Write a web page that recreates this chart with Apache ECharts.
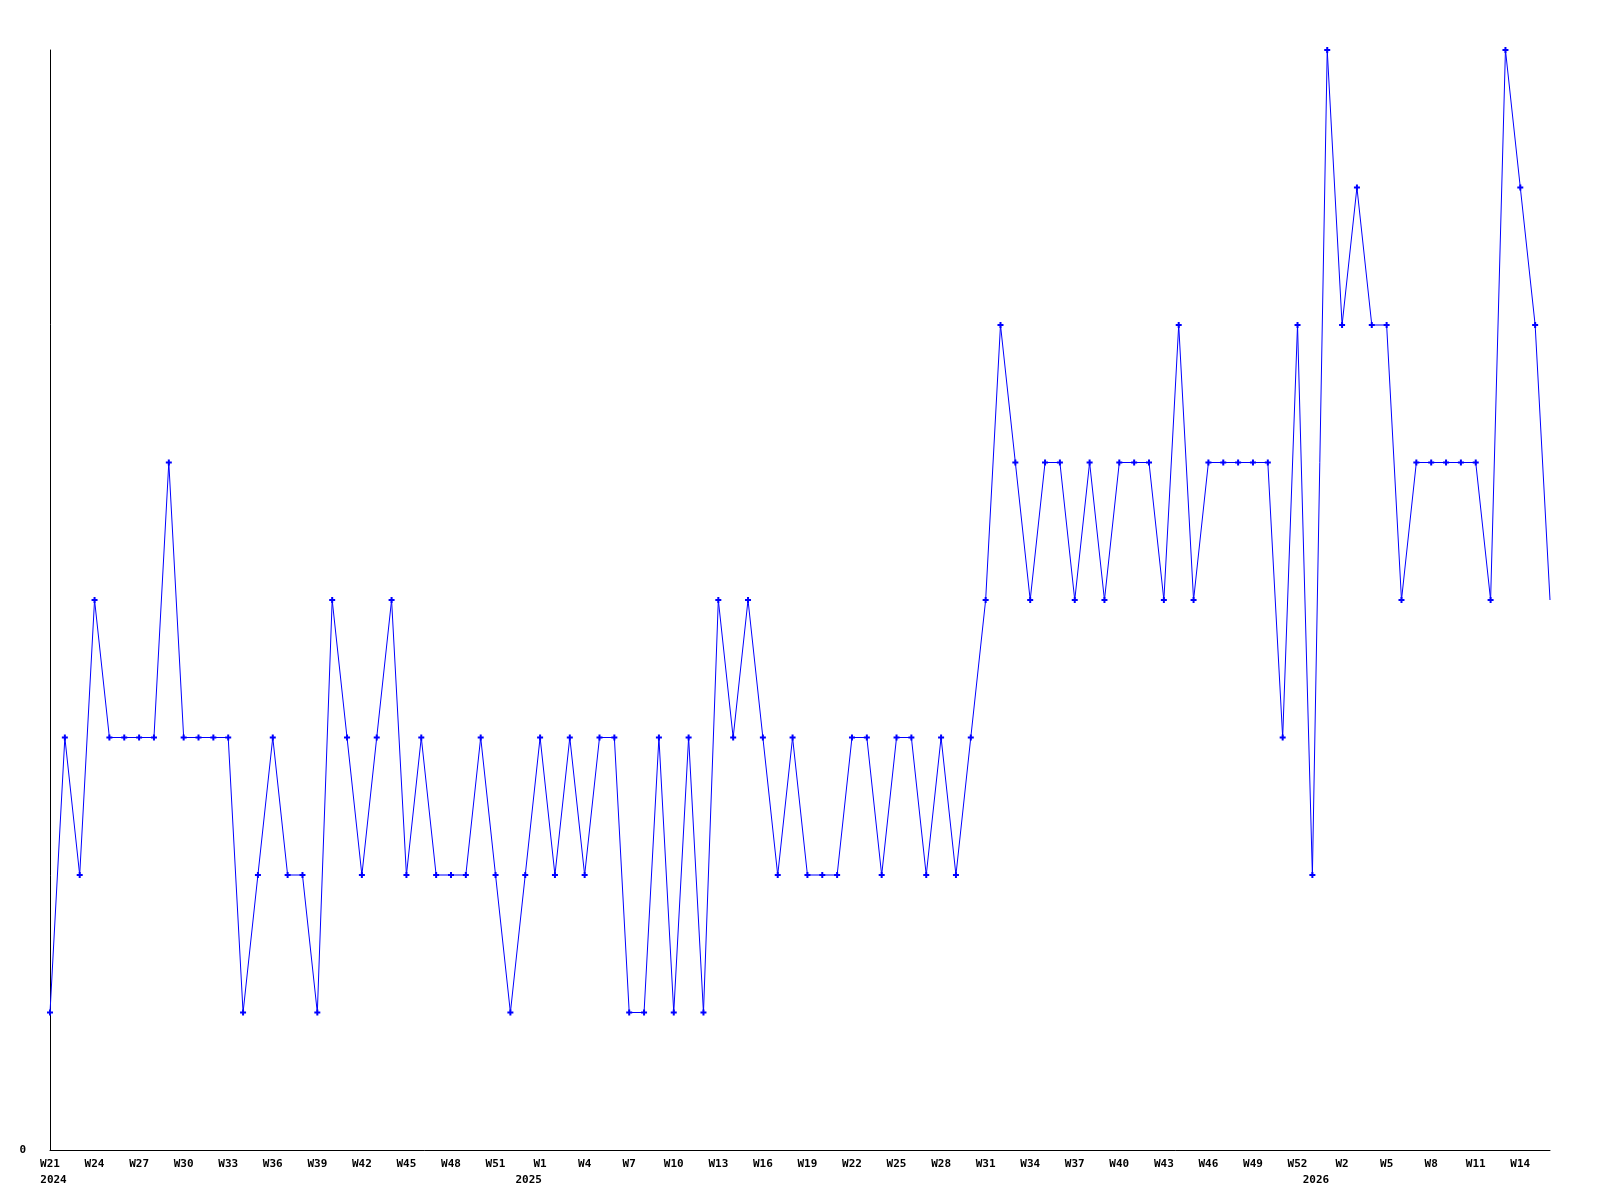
<!DOCTYPE html>
<html>
<head>
<meta charset="utf-8">
<script src="https://cdn.jsdelivr.net/npm/echarts@6/dist/echarts.min.js"></script>
<style>
html, body { margin: 0; padding: 0; background: #fff; }
#main { width: 1600px; height: 1200px; }
</style>
</head>
<body>
<div id="main"></div>
<script>
// weeks shown on the x axis (2024 W21 .. 2026 W16)
var weeks2024 = ['W21','W22','W23','W24','W25','W26','W27','W28','W29','W30','W31','W32','W33','W34','W35','W36','W37','W38','W39','W40','W41','W42','W43','W44','W45','W46','W47','W48','W49','W50','W51','W52','W53']
var weeks2025 = ['W1','W2','W3','W4','W5','W6','W7','W8','W9','W10','W11','W12','W13','W14','W15','W16','W17','W18','W19','W20','W21','W22','W23','W24','W25','W26','W27','W28','W29','W30','W31','W32','W33','W34','W35','W36','W37','W38','W39','W40','W41','W42','W43','W44','W45','W46','W47','W48','W49','W50','W51','W52','W53']
var weeks2026 = ['W1','W2','W3','W4','W5','W6','W7','W8','W9','W10','W11','W12','W13','W14','W15','W16']

// year labels: index on the axis -> text
var yearIndex = [0, 32, 85]
var yearText = ['2024', '2025', '2026']

// weekly counts
var counts = [
  1, 3, 2, 4, 3, 3, 3, 3, 5, 3,
  3, 3, 3, 1, 2, 3, 2, 2, 1, 4,
  3, 2, 3, 4, 2, 3, 2, 2, 2, 3,
  2, 1, 2, 3, 2, 3, 2, 3, 3, 1,
  1, 3, 1, 3, 1, 4, 3, 4, 3, 2,
  3, 2, 2, 2, 3, 3, 2, 3, 3, 2,
  3, 2, 3, 4, 6, 5, 4, 5, 5, 4,
  5, 4, 5, 5, 5, 4, 6, 4, 5, 5,
  5, 5, 5, 3, 6, 2, 8, 6, 7, 6,
  6, 4, 5, 5, 5, 5, 5, 4, 8, 7,
  6, 4
]

var weeks = weeks2024.concat(weeks2025, weeks2026)

// last (current) week is drawn without a marker
var seriesData = counts.map(function (v, i) {
  if (i === counts.length - 1) {
    return { value: v, symbol: 'none' }
  }
  return v
})

var labelFont = {
  fontFamily: 'DejaVu Sans Mono',
  fontWeight: 'bold',
  fontSize: 11,
  color: '#000'
}

var chart = echarts.init(document.getElementById('main'))
chart.setOption({
  animation: false,
  backgroundColor: '#fff',
  grid: { left: 50, right: 50, top: 50, bottom: 50 },
  xAxis: [
    {
      type: 'category',
      data: weeks,
      boundaryGap: false,
      axisLine: { lineStyle: { color: '#000', width: 1 } },
      axisTick: { show: false },
      axisLabel: Object.assign({ interval: 2, margin: 9 }, labelFont),
      splitLine: { show: false }
    },
    {
      type: 'category',
      data: weeks,
      position: 'bottom',
      boundaryGap: false,
      axisLine: { show: false },
      axisTick: { show: false },
      axisLabel: Object.assign({
        margin: 25,
        padding: [0, 0, 0, 7],
        interval: function (index) {
          return yearIndex.indexOf(index) >= 0
        },
        formatter: function (value, index) {
          var k = yearIndex.indexOf(index)
          return k >= 0 ? yearText[k] : ''
        }
      }, labelFont),
      splitLine: { show: false }
    }
  ],
  yAxis: {
    type: 'value',
    min: 0,
    max: 8,
    interval: 8,
    axisLine: { show: true, lineStyle: { color: '#000', width: 1 } },
    axisTick: { show: false },
    splitLine: { show: false },
    axisLabel: Object.assign({
      margin: 24,
      formatter: function (v) { return v === 0 ? '0' : '' }
    }, labelFont)
  },
  series: [
    {
      type: 'line',
      data: seriesData,
      xAxisIndex: 0,
      symbol: 'path://M2,0H4V2H6V4H4V6H2V4H0V2H2Z',
      symbolSize: 6,
      showAllSymbol: true,
      itemStyle: { color: '#0000ff' },
      lineStyle: { color: '#0000ff', width: 1 },
      emphasis: { disabled: true }
    }
  ]
})
</script>
</body>
</html>
